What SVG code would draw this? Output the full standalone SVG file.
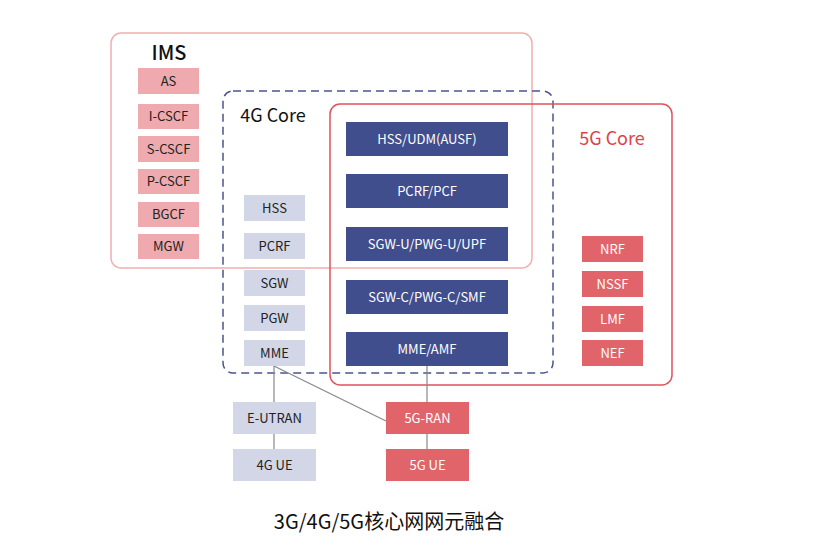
<svg xmlns="http://www.w3.org/2000/svg" width="840" height="548" viewBox="0 0 840 548">
<style>
text{font-family:"Noto Sans CJK SC","Noto Sans",sans-serif;text-anchor:middle;}
.t{font-size:13px;fill:#222;}
.tw{font-size:13px;fill:#fff;}
.ims rect{fill:#eeaaae;}
.g4 rect{fill:#d3d6e6;}
.g5 rect{fill:#414e8e;}
.r5 rect{fill:#e0646a;}
.conn line{stroke:#888;stroke-width:1.2;}
.h{font-size:18px;}
</style>
<rect width="840" height="548" fill="#fff"/>
<g id="ims-box"><rect x="111" y="33" width="421" height="235" rx="10" fill="none" stroke="#f2aeb1" stroke-width="1.5"/>
<text x="169" y="60" class="h" fill="#111" style="font-size:20px;font-weight:500">IMS</text></g>
<g id="core4g-box"><rect x="223" y="91" width="330" height="282" rx="10" fill="none" stroke="#4a5590" stroke-width="1.5" stroke-dasharray="8 5"/>
<text x="273" y="122" class="h" fill="#111">4G Core</text></g>
<g id="core5g-box"><rect x="330" y="104" width="342" height="281" rx="10" fill="none" stroke="#e0525c" stroke-width="1.5"/>
<text x="612" y="145" class="h" fill="#e0424c">5G Core</text></g>

<g class="conn" id="connectors">
<line x1="274" y1="366" x2="274" y2="402"/>
<line x1="274" y1="434" x2="274" y2="449"/>
<line x1="274" y1="366" x2="386" y2="421"/>
<line x1="427" y1="366" x2="427" y2="402"/>
<line x1="427" y1="434" x2="427" y2="449"/>
</g>

<g class="ims">
<g id="as"><rect x="138" y="68" width="61" height="26"/><text class="t" x="168.5" y="86">AS</text></g>
<g id="icscf"><rect x="138" y="104" width="61" height="25"/><text class="t" x="168.5" y="121">I-CSCF</text></g>
<g id="scscf"><rect x="138" y="136" width="61" height="26"/><text class="t" x="168.5" y="154">S-CSCF</text></g>
<g id="pcscf"><rect x="138" y="169" width="61" height="25"/><text class="t" x="168.5" y="186">P-CSCF</text></g>
<g id="bgcf"><rect x="138" y="202" width="61" height="25"/><text class="t" x="168.5" y="219">BGCF</text></g>
<g id="mgw"><rect x="138" y="234" width="61" height="25"/><text class="t" x="168.5" y="251">MGW</text></g>
</g>

<g class="g4">
<g id="hss"><rect x="244" y="195" width="61" height="26"/><text class="t" x="274.5" y="213">HSS</text></g>
<g id="pcrf"><rect x="244" y="233" width="61" height="26"/><text class="t" x="274.5" y="251">PCRF</text></g>
<g id="sgw"><rect x="244" y="270" width="61" height="26"/><text class="t" x="274.5" y="288">SGW</text></g>
<g id="pgw"><rect x="244" y="305" width="61" height="26"/><text class="t" x="274.5" y="323">PGW</text></g>
<g id="mme"><rect x="244" y="340" width="61" height="26"/><text class="t" x="274.5" y="358">MME</text></g>
<g id="eutran"><rect x="233" y="402" width="83" height="32"/><text class="t" x="274.5" y="423">E-UTRAN</text></g>
<g id="ue4g"><rect x="233" y="449" width="83" height="32"/><text class="t" x="274.5" y="470">4G UE</text></g>
</g>

<g class="g5">
<g id="hss-udm"><rect x="346" y="122" width="162" height="34"/><text class="tw" x="427" y="144">HSS/UDM(AUSF)</text></g>
<g id="pcrf-pcf"><rect x="346" y="174" width="162" height="34"/><text class="tw" x="427" y="196">PCRF/PCF</text></g>
<g id="upf"><rect x="346" y="227" width="162" height="34"/><text class="tw" x="427" y="249">SGW-U/PWG-U/UPF</text></g>
<g id="smf"><rect x="346" y="280" width="162" height="34"/><text class="tw" x="427" y="302">SGW-C/PWG-C/SMF</text></g>
<g id="amf"><rect x="346" y="332" width="162" height="34"/><text class="tw" x="427" y="354">MME/AMF</text></g>
</g>

<g class="r5">
<g id="nrf"><rect x="582" y="236" width="61" height="26"/><text class="tw" x="612.5" y="254">NRF</text></g>
<g id="nssf"><rect x="582" y="271" width="61" height="26"/><text class="tw" x="612.5" y="289">NSSF</text></g>
<g id="lmf"><rect x="582" y="306" width="61" height="26"/><text class="tw" x="612.5" y="324">LMF</text></g>
<g id="nef"><rect x="582" y="340" width="61" height="26"/><text class="tw" x="612.5" y="358">NEF</text></g>
<g id="ran5g"><rect x="386" y="402" width="83" height="32"/><text class="tw" x="427.5" y="423">5G-RAN</text></g>
<g id="ue5g"><rect x="386" y="449" width="83" height="32"/><text class="tw" x="427.5" y="470">5G UE</text></g>
</g>

<text x="389" y="529" style="font-size:20px" fill="#111">3G/4G/5G核心网网元融合</text>
</svg>
